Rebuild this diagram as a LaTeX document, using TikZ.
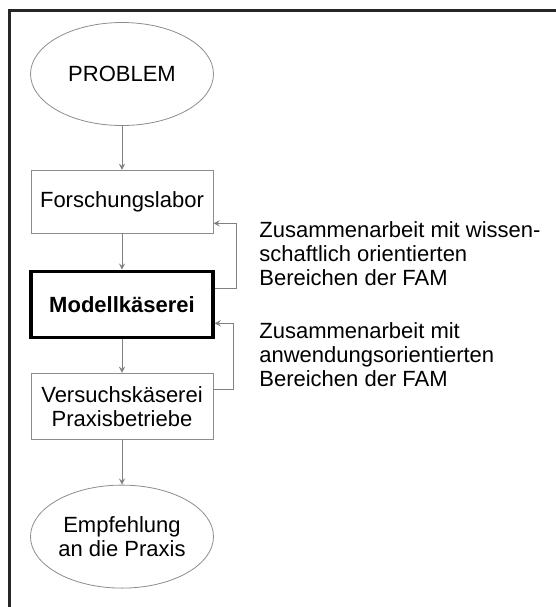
\documentclass[tikz,border=0pt]{standalone}
\usepackage{fontspec}
\setmainfont{Liberation Sans}
\usetikzlibrary{arrows}
\usetikzlibrary{positioning}
\usetikzlibrary{shapes.geometric}

\begin{document}
\begin{tikzpicture}[node distance=1cm,
  every node/.style={font=\fontsize{11}{12}\selectfont,align=center},
  ende/.style={draw=black!45,ellipse,inner sep=0pt,minimum width=91.5pt,minimum height=51.5pt},
  kasten/.style={draw=black!45,rectangle,inner sep=0pt,minimum width=91pt,minimum height=33pt},
  pfeil/.style={draw=black!50,-stealth},
  bemerkung/.style={align=left,anchor=base west,inner sep=0pt}]
  \useasboundingbox (0,0) rectangle (278pt,-303.5pt);
  \draw[line width=1.1pt,black!85](278pt,-5.25pt)--(4.75pt,-5.25pt)--(4.75pt,-303.5pt);

  \node[ende](problem) at (61pt,-37pt){PROBLEM};
  \node[kasten,below=22pt of problem,minimum height=31.5pt](labor){Forschungslabor};
  \node[kasten,below=18pt of labor,line width=1.6pt,draw=black](modell){\bfseries Modellkäserei};
  \node[kasten,below=17pt of modell](versuch){Versuchskäserei\\Praxisbetriebe};
  \node[ende,below=22.5pt of versuch](empfehlung){Empfehlung\\an die Praxis};

  \node[bemerkung](wissen) at (129.5pt,-142.5pt){Zusammenarbeit mit wissen-\\schaftlich orientierten\\Bereichen der FAM};
  \node[bemerkung](anwendung) at (129.5pt,-193pt){Zusammenarbeit mit\\anwendungsorientierten\\Bereichen der FAM};

  \draw[pfeil](problem)--(labor);
  \draw[pfeil](labor)--(modell);
  \draw[pfeil](modell)--(versuch);
  \draw[pfeil](versuch)--(empfehlung);
  % Rueckkopplung
  \draw[pfeil]([yshift=8pt]modell.east)--++(11pt,0)|-([yshift=-10.75pt]labor.east);
  \draw[pfeil]([yshift=8.5pt]versuch.east)--++(10pt,0)|-([yshift=-9.5pt]modell.east);
\end{tikzpicture}
\end{document}
